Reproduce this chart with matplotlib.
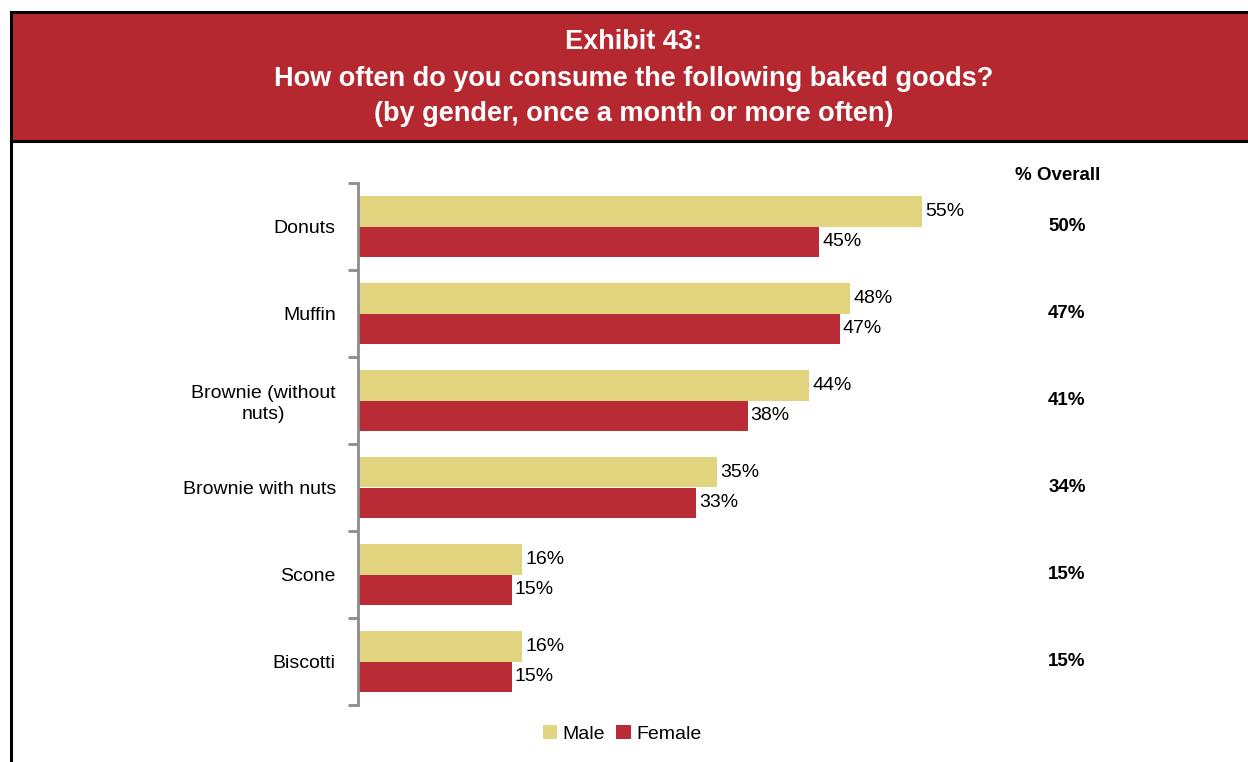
import matplotlib.pyplot as plt
from matplotlib.patches import Rectangle, Patch
from matplotlib.lines import Line2D
from matplotlib.transforms import blended_transform_factory

plt.rcParams['font.family'] = ['Liberation Sans', 'DejaVu Sans']

categories = ['Donuts', 'Muffin', 'Brownie (without\nnuts)', 'Brownie with nuts', 'Scone', 'Biscotti']
male = [55, 48, 44, 35, 16, 16]
female = [45, 47, 38, 33, 15, 15]
overall = [50, 47, 41, 34, 15, 15]

male_color = '#E2D47F'
female_color = '#B92B35'
header_color = '#B5282F'

fig = plt.figure(figsize=(12.48, 7.62), dpi=100)

# pixel helpers for the frame layout
W, H = 1248, 762
def fx(px):
    return px / W
def fy(py):
    return 1 - py / H

# header band + frame
fig.patches.append(Rectangle((fx(11), fy(141)), 1 - fx(11), fy(12) - fy(141),
                             transform=fig.transFigure, facecolor=header_color,
                             edgecolor='none', zorder=0))
for (x0, y0, x1, y1) in [(11, 12, W, 12), (11, 141, W, 141), (11, 12, 11, H)]:
    fig.lines.append(Line2D([fx(x0), fx(x1)], [fy(y0), fy(y1)], transform=fig.transFigure,
                            color='black', lw=2.2))

title_lines = ['Exhibit 43:', 'How often do you consume the following baked goods?',
               '(by gender, once a month or more often)']
for t, py in zip(title_lines, [42, 79, 114]):
    fig.text(fx(634), fy(py), t, ha='center', va='center', color='white',
             fontsize=19.5, fontweight='bold')

ax = fig.add_axes([fx(358), fy(705), fx(973) - fx(358), fy(183) - fy(705)])

ypos = list(range(len(categories)))
h = 0.355
ax.barh([y - h / 2 for y in ypos], male, height=h, color=male_color, label='Male')
ax.barh([y + h / 2 for y in ypos], female, height=h, color=female_color, label='Female')

for y, m, f in zip(ypos, male, female):
    ax.text(m + 0.3, y - h / 2, f'{m}%', va='center', ha='left', fontsize=14)
    ax.text(f + 0.3, y + h / 2, f'{f}%', va='center', ha='left', fontsize=14)

ax.set_xlim(0, 60)
ax.set_ylim(len(categories) - 0.5, -0.5)
ax.set_xticks([])
ax.set_yticks(ypos)
ax.set_yticklabels(categories, fontsize=14, linespacing=1.25)
ax.set_yticks([y - 0.5 for y in range(len(categories) + 1)], minor=True)
ax.tick_params(axis='y', which='major', length=0, pad=16)
ax.tick_params(axis='y', which='minor', length=7, width=2, color='#8C8C8C')
for s in ['top', 'right', 'bottom']:
    ax.spines[s].set_visible(False)
ax.spines['left'].set_color('#8C8C8C')
ax.spines['left'].set_linewidth(2)
for lbl in ax.get_yticklabels():
    lbl.set_horizontalalignment('right')
    lbl.set_multialignment('center')

# overall column
fig.text(fx(1058), fy(175), '% Overall', ha='center', va='center',
         fontsize=13.5, fontweight='bold')
trans = blended_transform_factory(fig.transFigure, ax.transData)
for y, o in zip(ypos, overall):
    ax.text(fx(1067), y, f'{o}%', transform=trans,
            ha='center', va='center', fontsize=13.5, fontweight='bold')

handles = [Patch(facecolor=male_color, label='Male'), Patch(facecolor=female_color, label='Female')]
fig.legend(handles=handles, loc='center', bbox_to_anchor=(fx(622), fy(734)), ncol=2,
           frameon=False, fontsize=14, handlelength=0.75, handleheight=0.75,
           handletextpad=0.25, columnspacing=0.6)

fig.savefig('out.png', dpi=100)
